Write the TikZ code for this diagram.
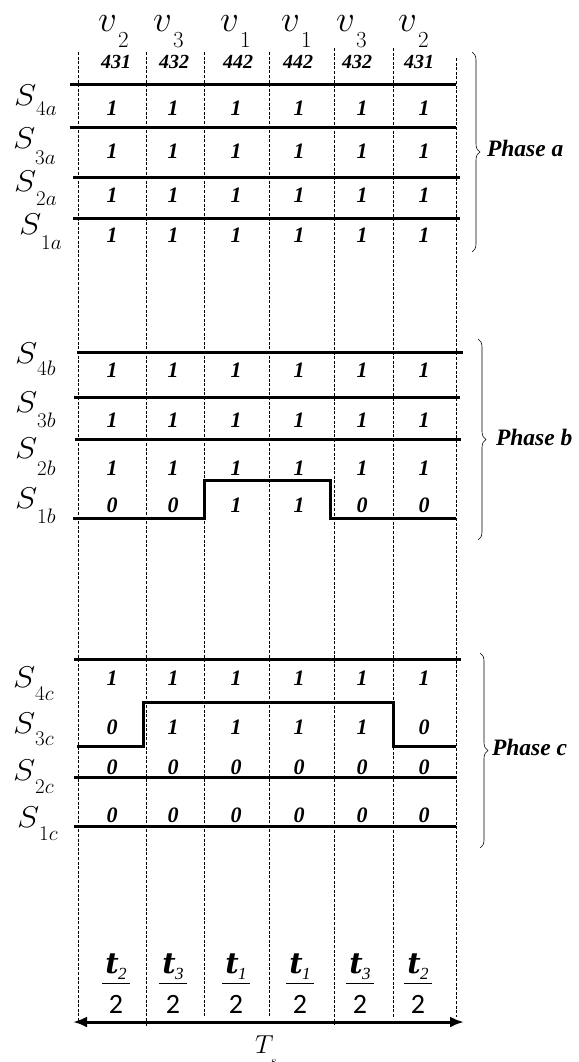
\RequirePackage{fix-cm}
\documentclass[tikz,border=0pt]{standalone}
\usepackage{fontspec}
\usepackage{graphicx}
\usetikzlibrary{arrows.meta,decorations.pathreplacing}
\newfontfamily\bookfont{Liberation Serif}
\newfontfamily\slabfont{DejaVu Serif}
\newfontfamily\calfont{Carlito}

\newcommand\sz[1]{\fontsize{#1}{#1}\selectfont}

\tikzset{
  every node/.style={inner sep=0pt, outer sep=0pt},
  gridline/.style={dash pattern=on 3pt off 1.6pt, line width=0.9pt},
  level/.style={line width=3pt},
  bit/.style={font=\sz{22}\bookfont\bfseries\itshape},
  code/.style={font=\sz{20}\bookfont\bfseries\itshape},
  phase/.style={font=\sz{23.5}\bookfont\bfseries\itshape, anchor=base west},
  group/.style={decorate, decoration={brace, amplitude=8pt}, line width=0.6pt},
  swlab/.style={font=\sz{30}, anchor=base west},
  vlab/.style={font=\sz{37}, anchor=base west},
  fnum/.style={font=\sz{29}\slabfont\bfseries\itshape, anchor=base},
  fden/.style={font=\sz{28}\calfont, anchor=base},
  fbar/.style={line width=0.9pt},
  spanarrow/.style={line width=3pt, {Latex[length=14pt,width=11pt]}-{Latex[length=14pt,width=11pt]}},
}

% switch label: name, x, baseline, subscript, drop of the subscript
\newcommand\swnode[5]{%
  \node[swlab] (#1) at (#2,#3) {\scalebox{1.12}[1]{$S$}\raisebox{-#5pt}{\sz{21}$#4$}};}
% voltage vector label: name, x, digit
\newcommand\vnode[3]{%
  \node[vlab] (#1) at (#2,32) {\rlap{$v$}\hspace{20pt}\raisebox{-16pt}{\sz{23}$#3$}};}
% one row of switch states over the six intervals
\newcommand\bitrow[8]{%
  \node[bit] (#1-1) at (112,#2) {#3};
  \node[bit] (#1-2) at (173,#2) {#4};
  \node[bit] (#1-3) at (236,#2) {#5};
  \node[bit] (#1-4) at (299,#2) {#6};
  \node[bit] (#1-5) at (362,#2) {#7};
  \node[bit] (#1-6) at (424,#2) {#8};}
% interval duration t_k/2: name, x, index
\newcommand\fracnode[3]{%
  \node[fnum] (#1n) at (#2,973) {t\kern-0.5pt\raisebox{-6pt}{\sz{17}\bookfont\mdseries\itshape #3}};
  \draw[fbar] ({#2-14},983) -- ({#2+14},983);
  \node[fden] (#1d) at (#2,1013) {2};}

\begin{document}
\begin{tikzpicture}[x=1pt,y=-1pt]
\useasboundingbox (0,0) rectangle (578,1062);

% interval boundaries
\foreach \x/\t/\b in {78/52/1022, 146/52/1027, 204/52/1017, 269/52/1017,
                      334/48/1025, 393/48/1017, 456/58/1017}
  \draw[gridline] (\x,\t) -- (\x,\b);

% vector sequence
\vnode{v2a}{98}{2}
\vnode{v3a}{153}{3}
\vnode{v1a}{220}{1}
\vnode{v1b}{281}{1}
\vnode{v3b}{336}{3}
\vnode{v2b}{398}{2}
\node[code] (c1) at (116,62) {431};
\node[code] (c2) at (174,62) {432};
\node[code] (c3) at (238,62) {442};
\node[code] (c4) at (298,62) {442};
\node[code] (c5) at (357,62) {432};
\node[code] (c6) at (419,62) {431};

% ---------------- phase a ----------------
\swnode{s4a}{14}{106}{4a}{10}
\swnode{s3a}{13}{148}{3a}{16}
\swnode{s2a}{14}{191}{2a}{14}
\swnode{s1a}{19}{234}{1a}{15}
\draw[level] (70,85) -- (456,85);
\draw[level] (70,128) -- (456,128);
\draw[level] (73,177) -- (460,177);
\draw[level] (73,218) -- (460,218);
\bitrow{a4}{108}{1}{1}{1}{1}{1}{1}
\bitrow{a3}{151}{1}{1}{1}{1}{1}{1}
\bitrow{a2}{195}{1}{1}{1}{1}{1}{1}
\bitrow{a1}{235}{1}{1}{1}{1}{1}{1}
\draw[group] (472,52) -- (472,252);
\node[phase] (pa) at (487,157) {Phase a};

% ---------------- phase b ----------------
\swnode{s4b}{15}{363}{4b}{12}
\swnode{s3b}{15}{412}{3b}{15}
\swnode{s2b}{15}{458}{2b}{17}
\swnode{s1b}{15}{508}{1b}{15}
\draw[level] (77,352) -- (463,352);
\draw[level] (74,397) -- (460,397);
\draw[level] (75,439) -- (461,439);
\draw[level] (73,518) -- (204,518) -- (204,480) -- (330,480) -- (330,518) -- (456,518);
\bitrow{b4}{370}{1}{1}{1}{1}{1}{1}
\bitrow{b3}{420}{1}{1}{1}{1}{1}{1}
\bitrow{b2}{468}{1}{1}{1}{1}{1}{1}
\bitrow{b1}{505}{0}{0}{1}{1}{0}{0}
\draw[group] (478,339) -- (478,540);
\node[phase] (pb) at (496,445) {Phase b};

% ---------------- phase c ----------------
\swnode{s4c}{13}{687}{4c}{13}
\swnode{s3c}{13}{733}{3c}{12}
\swnode{s2c}{13}{780}{2c}{13}
\swnode{s1c}{17}{827}{1c}{13}
\draw[level] (74,659) -- (461,659);
\draw[level] (77,746) -- (143,746) -- (143,702) -- (393,702) -- (393,746) -- (456,746);
\draw[level] (74,777) -- (456,777);
\draw[level] (74,826) -- (456,826);
\bitrow{c4}{678}{1}{1}{1}{1}{1}{1}
\bitrow{c3}{727}{0}{1}{1}{1}{1}{0}
\bitrow{c2}{767}{0}{0}{0}{0}{0}{0}
\bitrow{c1}{815}{0}{0}{0}{0}{0}{0}
\draw[group] (480,653) -- (480,848);
\node[phase] (pc) at (492,755) {Phase c};

% ---------------- interval durations ----------------
\fracnode{f1}{116}{2}
\fracnode{f2}{173}{3}
\fracnode{f3}{236}{1}
\fracnode{f4}{300}{1}
\fracnode{f5}{360}{3}
\fracnode{f6}{418}{2}

\coordinate (tsL) at (73,1022);
\coordinate (tsR) at (464,1022);
\draw[spanarrow] (tsL) -- (tsR);
\node[font=\sz{26}, anchor=base west] (ts) at (255,1053)
  {\rlap{$T$}\hspace{15pt}\raisebox{-12pt}{\sz{14}$s$}};
\end{tikzpicture}
\end{document}
